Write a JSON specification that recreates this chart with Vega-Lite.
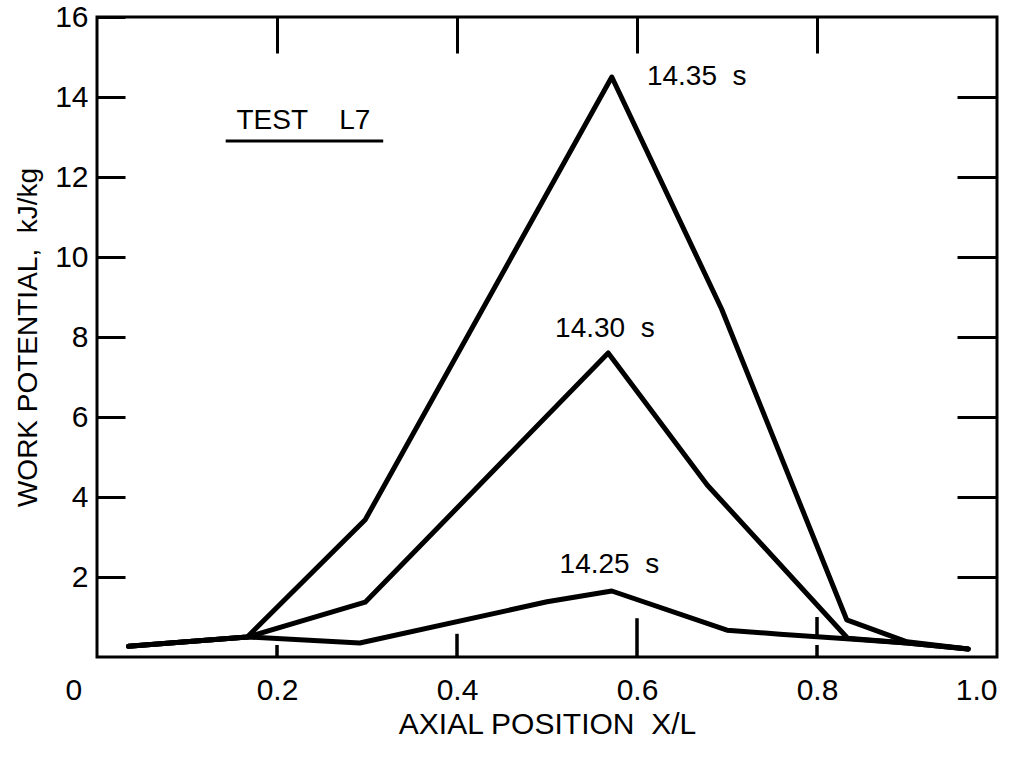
{
  "$schema": "https://vega.github.io/schema/vega-lite/v6.json",
  "width": 900,
  "height": 640,
  "autosize": {"type": "none"},
  "padding": {"left": 97, "top": 17, "right": 24, "bottom": 104},
  "background": "white",
  "config": {
    "view": {"stroke": "black", "strokeWidth": 3},
    "font": "Liberation Sans",
    "axis": {
      "domain": false,
      "grid": false,
      "tickColor": "black",
      "tickWidth": 3,
      "labelColor": "black",
      "labelFont": "Liberation Sans",
      "labelFontSize": 30,
      "titleFont": "Liberation Sans",
      "titleFontSize": 28,
      "titleFontWeight": "normal",
      "titleColor": "black"
    }
  },
  "datasets": {
    "lines": [
      {"series": "14.25 s", "x": 0.035, "y": 0.27},
      {"series": "14.25 s", "x": 0.167, "y": 0.5},
      {"series": "14.25 s", "x": 0.292, "y": 0.35},
      {"series": "14.25 s", "x": 0.5, "y": 1.38},
      {"series": "14.25 s", "x": 0.572, "y": 1.65},
      {"series": "14.25 s", "x": 0.7, "y": 0.67},
      {"series": "14.25 s", "x": 0.759, "y": 0.57},
      {"series": "14.25 s", "x": 0.837, "y": 0.45},
      {"series": "14.25 s", "x": 0.9, "y": 0.35},
      {"series": "14.25 s", "x": 0.968, "y": 0.2},
      {"series": "14.30 s", "x": 0.035, "y": 0.27},
      {"series": "14.30 s", "x": 0.167, "y": 0.5},
      {"series": "14.30 s", "x": 0.298, "y": 1.37},
      {"series": "14.30 s", "x": 0.568, "y": 7.6},
      {"series": "14.30 s", "x": 0.678, "y": 4.3},
      {"series": "14.30 s", "x": 0.834, "y": 0.47},
      {"series": "14.30 s", "x": 0.9, "y": 0.35},
      {"series": "14.30 s", "x": 0.968, "y": 0.2},
      {"series": "14.35 s", "x": 0.035, "y": 0.27},
      {"series": "14.35 s", "x": 0.167, "y": 0.5},
      {"series": "14.35 s", "x": 0.298, "y": 3.43},
      {"series": "14.35 s", "x": 0.572, "y": 14.5},
      {"series": "14.35 s", "x": 0.694, "y": 8.7},
      {"series": "14.35 s", "x": 0.833, "y": 0.93},
      {"series": "14.35 s", "x": 0.9, "y": 0.38},
      {"series": "14.35 s", "x": 0.968, "y": 0.2}
    ],
    "labels": [
      {"x": 0.611, "y": 14.5, "label": "14.35\u00a0\u00a0s"},
      {"x": 0.509, "y": 8.2, "label": "14.30\u00a0\u00a0s"},
      {"x": 0.514, "y": 2.3, "label": "14.25\u00a0\u00a0s"},
      {"x": 0.155, "y": 13.4, "label": "TEST\u00a0\u00a0\u00a0\u00a0L7"}
    ],
    "underline": [
      {"x": 0.143, "x2": 0.318, "y": 12.9}
    ],
    "bottomTicks": [
      {"tx": 0.2, "ty": 0, "ty2": 0.3},
      {"tx": 0.4, "ty": 0, "ty2": 0.58},
      {"tx": 0.6, "ty": 0, "ty2": 0.97},
      {"tx": 0.8, "ty": 0, "ty2": 0.3},
      {"tx": 0.8, "ty": 0.5, "ty2": 1.0}
    ]
  },
  "layer": [
    {
      "data": {"name": "lines"},
      "mark": {"type": "line", "color": "black", "strokeWidth": 5, "strokeJoin": "round", "strokeCap": "round"},
      "encoding": {
        "x": {
          "field": "x", "type": "quantitative",
          "scale": {"domain": [0, 1], "nice": false, "padding": 0},
          "axis": {
            "orient": "bottom",
            "values": [0, 0.2, 0.4, 0.6, 0.8, 1],
            "labelExpr": "datum.value == 0 ? '0' : format(datum.value, '.1f')",
            "ticks": false,
            "labelPadding": 18,
            "labelOffset": {"condition": {"test": "datum.value == 0", "value": -32}, "value": 0},
            "title": "AXIAL POSITION\u00a0\u00a0X/L",
            "titleFontSize": 30,
            "titlePadding": 4
          }
        },
        "y": {
          "field": "y", "type": "quantitative",
          "scale": {"domain": [0, 16], "nice": false, "padding": 0},
          "axis": {
            "orient": "left",
            "values": [2, 4, 6, 8, 10, 12, 14, 16],
            "tickSize": -28,
            "labelPadding": 37,
            "title": "WORK POTENTIAL,\u00a0\u00a0kJ/kg",
            "titlePadding": 12
          }
        },
        "detail": {"field": "series"}
      }
    },
    {
      "data": {"name": "bottomTicks"},
      "mark": {"type": "bar", "color": "black", "width": 3.5},
      "encoding": {
        "x": {"field": "tx", "type": "quantitative", "axis": null},
        "y": {"field": "ty", "type": "quantitative", "axis": null},
        "y2": {"field": "ty2"}
      }
    },
    {
      "data": {"name": "underline"},
      "mark": {"type": "rule", "color": "black", "strokeWidth": 3},
      "encoding": {
        "x": {"field": "x", "type": "quantitative", "axis": null},
        "x2": {"field": "x2"},
        "y": {"field": "y", "type": "quantitative", "axis": null}
      }
    },
    {
      "data": {"name": "labels"},
      "mark": {"type": "text", "align": "left", "baseline": "middle", "fontSize": 28, "color": "black", "font": "Liberation Sans"},
      "encoding": {
        "x": {
          "field": "x", "type": "quantitative",
          "axis": {"orient": "top", "values": [0.2, 0.4, 0.6, 0.8], "tickSize": -36, "labels": false, "title": null}
        },
        "y": {
          "field": "y", "type": "quantitative",
          "axis": {"orient": "right", "values": [2, 4, 6, 8, 10, 12, 14], "tickSize": -40, "labels": false, "title": null}
        },
        "text": {"field": "label"}
      }
    }
  ],
  "resolve": {"axis": {"x": "independent", "y": "independent"}}
}
